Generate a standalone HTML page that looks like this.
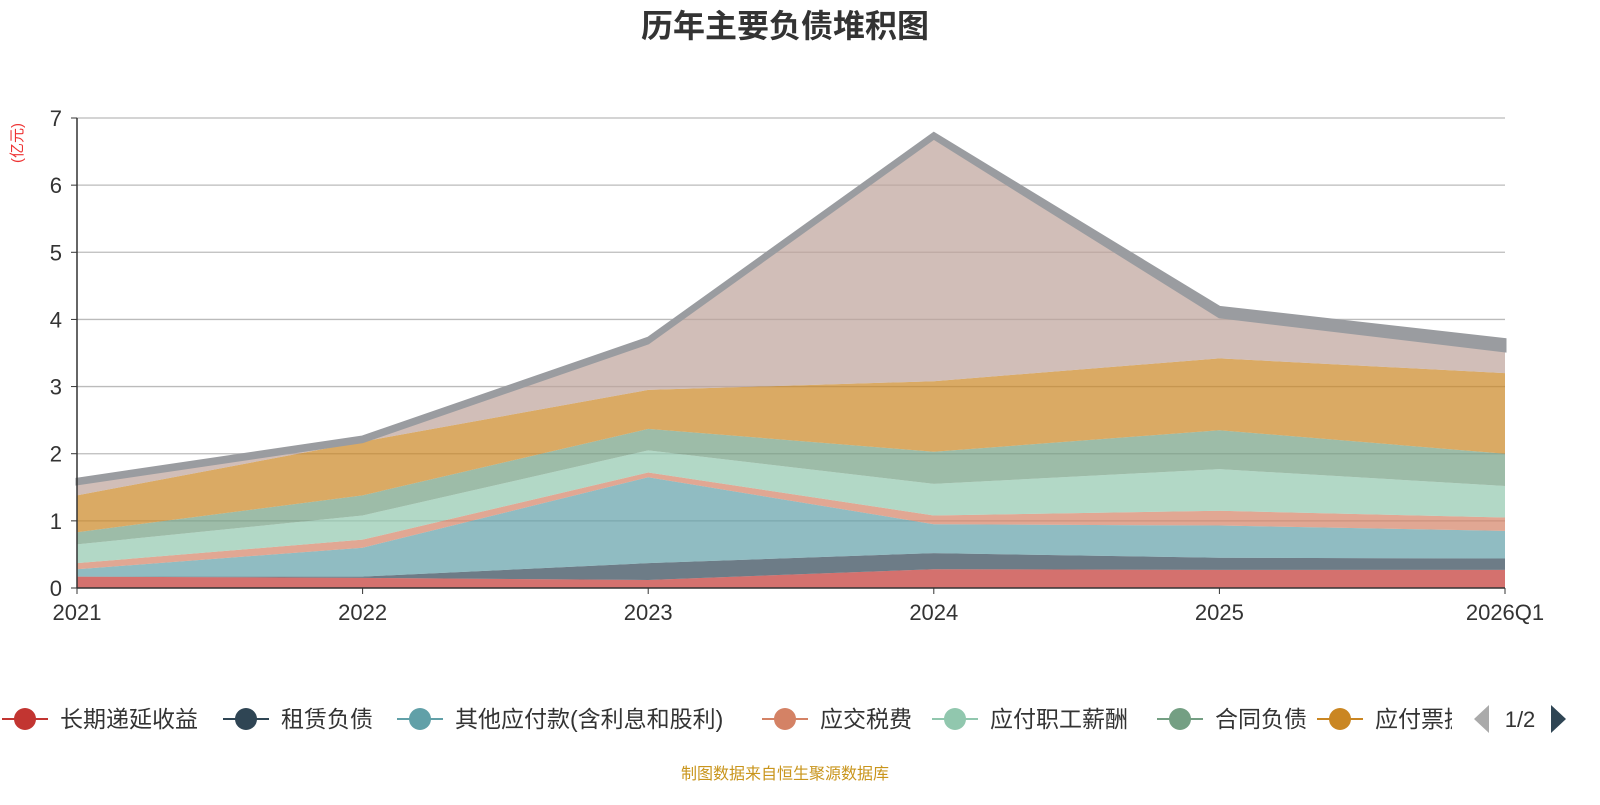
<!DOCTYPE html>
<html><head><meta charset="utf-8"><style>
body{margin:0;background:#fff;font-family:"Liberation Sans","Noto Sans CJK SC",sans-serif}
svg text{font-family:"Liberation Sans","Noto Sans CJK SC",sans-serif}
</style></head><body>
<svg id="c" width="1600" height="800">
<text x="785" y="37" text-anchor="middle" font-size="32" font-weight="bold" fill="#333">历年主要负债堆积图</text>
<text transform="translate(22,143) rotate(-90)" text-anchor="middle" font-size="15" fill="#e33">(亿元)</text>
<g id="grid"></g><g id="areas"></g><g id="axes"></g><g id="legend"></g>
<text x="785" y="779" text-anchor="middle" font-size="16" fill="#c9951c">制图数据来自恒生聚源数据库</text>
</svg>
<script>
const categories=["2021","2022","2023","2024","2025","2026Q1"];
const seriesNames=["长期递延收益","租赁负债","其他应付款(含利息和股利)","应交税费","应付职工薪酬","合同负债","应付票据","应付账款","其他"];
const s0=[0.17,0.15,0.12,0.28,0.27,0.27];
const s1=[0.0,0.02,0.25,0.24,0.18,0.17];
const s2=[0.11,0.43,1.28,0.43,0.48,0.41];
const s3=[0.09,0.12,0.07,0.13,0.22,0.20];
const s4=[0.28,0.36,0.33,0.47,0.62,0.47];
const s5=[0.18,0.30,0.32,0.48,0.58,0.48];
const s6=[0.55,0.80,0.58,1.05,1.07,1.20];
const s7=[0.17,0.00,0.70,3.62,0.62,0.33];
const s8=[0.07,0.07,0.07,0.07,0.14,0.17];
const yTicks=[0,1,2,3,4,5,6,7];
const series=[s0,s1,s2,s3,s4,s5,s6,s7,s8];
const colors=["#c23531","#2f4554","#61a0a8","#d48265","#91c7ae","#749f83","#ca8622","#bda29a","#6e7074"];
const NS="http://www.w3.org/2000/svg";
const X0=77,X1=1505,Y0=588,Y1=118;
const x=i=>X0+i*(X1-X0)/(categories.length-1);
const y=v=>Y0-v*(Y0-Y1)/7;
function mk(t,a,p){const e=document.createElementNS(NS,t);for(const k in a)e.setAttribute(k,a[k]);p.appendChild(e);return e;}
const grid=document.getElementById('grid'),axes=document.getElementById('axes'),areas=document.getElementById('areas'),leg=document.getElementById('legend');
yTicks.forEach(t=>{
 if(t>0){const l=mk('line',{x1:X0,x2:X1,y1:y(t),y2:y(t),stroke:'#bbb','stroke-width':1.3},grid);
 
 }
 const tx=mk('text',{x:62,y:y(t)+8,'text-anchor':'end','font-size':22,fill:'#333'},axes);tx.textContent=t;
 
 
 mk('line',{x1:X0-6,x2:X0,y1:y(t),y2:y(t),stroke:'#333'},axes);
});
mk('line',{x1:X0,x2:X0,y1:Y1,y2:Y0,stroke:'#333','stroke-width':1.5},axes);
mk('line',{x1:X0,x2:X1,y1:Y0,y2:Y0,stroke:'#333','stroke-width':1.5},axes);
categories.forEach((c,i)=>{
 const tx=mk('text',{x:x(i),y:Y0+32,'text-anchor':'middle','font-size':22,fill:'#333'},axes);
 tx.textContent=c;
 
 
 mk('line',{x1:x(i),x2:x(i),y1:Y0,y2:Y0+6,stroke:'#333'},axes);
});
let base=categories.map(()=>0);
series.forEach((s,k)=>{
 const top=base.map((b,i)=>b+s[i]);
 let d='';top.forEach((v,i)=>d+=(i?'L':'M')+x(i)+','+y(v));
 for(let i=base.length-1;i>=0;i--)d+='L'+x(i)+','+y(base[i]);
 const p=mk('path',{d:d+'Z',fill:colors[k],'fill-opacity':0.7},areas);
 if(k==8){p.setAttribute('stroke','#9a9ca0');p.setAttribute('stroke-width',3);p.setAttribute('fill','#9a9ca0');p.setAttribute('fill-opacity',1);}
 
 
 base=top;
});
const lx=[25,246,420,785,955,1180,1340];
for(let k=0;k<7;k++){
 const g=mk('g',{},leg);
 
 
 mk('line',{x1:lx[k]-23,x2:lx[k]+23,y1:719,y2:719,stroke:colors[k],'stroke-width':2},g);
 mk('circle',{cx:lx[k],cy:719,r:11,fill:colors[k]},g);
 const t=mk('text',{x:lx[k]+35,y:727,'font-size':23,fill:'#333'},g);t.textContent=seriesNames[k];
}
mk('rect',{x:1452,y:690,width:148,height:60,fill:'#fff'},leg);
const pa=mk('path',{d:'M1489,705 L1474,719 L1489,733 Z',fill:'#aaa'},leg);


const pt=mk('text',{x:1520,y:727,'font-size':22,fill:'#333','text-anchor':'middle'},leg);pt.textContent='1/2';
const na=mk('path',{d:'M1551,705 L1566,719 L1551,733 Z',fill:'#2f4554'},leg);


</script>
</body></html>
